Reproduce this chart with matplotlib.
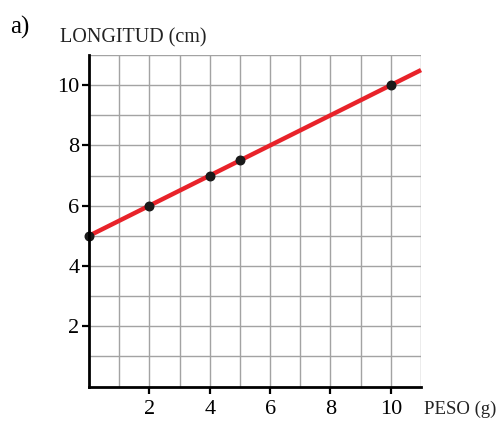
import matplotlib
matplotlib.use("Agg")
import matplotlib.pyplot as plt
import numpy as np

# Data: weight (g) vs length (cm)
peso = [0, 2, 4, 5, 10]
longitud = [5, 6, 7, 7.5, 10]
x_ticks = [2, 4, 6, 8, 10]
y_ticks = [2, 4, 6, 8, 10]
x_max = 11
y_max = 11

plt.rcParams['font.family'] = ['Liberation Serif', 'DejaVu Serif']

fig = plt.figure(figsize=(5.04, 4.22), dpi=100)
ax = fig.add_axes([0.1766, 0.0841, 0.6588, 0.7856])

# Unit grid
ax.set_xlim(0, x_max)
ax.set_ylim(0, y_max)
for xv in np.arange(1, x_max + 1, 1):
    ax.axvline(xv, color="#a3a3a3", linewidth=1.0, zorder=1)
for yv in np.arange(1, y_max + 1, 1):
    ax.axhline(yv, color="#a3a3a3", linewidth=1.0, zorder=1)

# Straight line fitted through the points, extended to the frame edge
slope, intercept = np.polyfit(peso, longitud, 1)
xl = np.array([0, x_max])
ax.plot(xl, slope * xl + intercept, color="#e8232a", linewidth=3.2,
        solid_capstyle="butt", zorder=3, clip_on=False)
ax.scatter(peso, longitud, s=38, color="#1a1a1a", zorder=4, clip_on=False)

ax.set_xticks(x_ticks)
ax.set_yticks(y_ticks)
ax.set_xticklabels([str(v) for v in x_ticks])
ax.set_yticklabels([str(v) for v in y_ticks])
ax.tick_params(which="major", direction="out", length=5, width=1.6,
               labelsize=16, color="black")
ax.tick_params(axis="x", pad=5)
ax.tick_params(axis="y", pad=2)

for side in ("top", "right"):
    ax.spines[side].set_visible(False)
for side in ("left", "bottom"):
    ax.spines[side].set_linewidth(2)
    ax.spines[side].set_color("black")
    ax.spines[side].set_zorder(5)

fig.text(10 / 504, 1 - 27 / 422, "a)", fontsize=18, ha="left", va="center")
fig.text(60 / 504, 1 - 38 / 422, "LONGITUD (cm)", fontsize=14.5,
         ha="left", va="center", color="#222222")
fig.text(424 / 504, 1 - 409 / 422, "PESO (g)", fontsize=13.5,
         ha="left", va="center", color="#222222")

fig.savefig("out.png", dpi=100)
